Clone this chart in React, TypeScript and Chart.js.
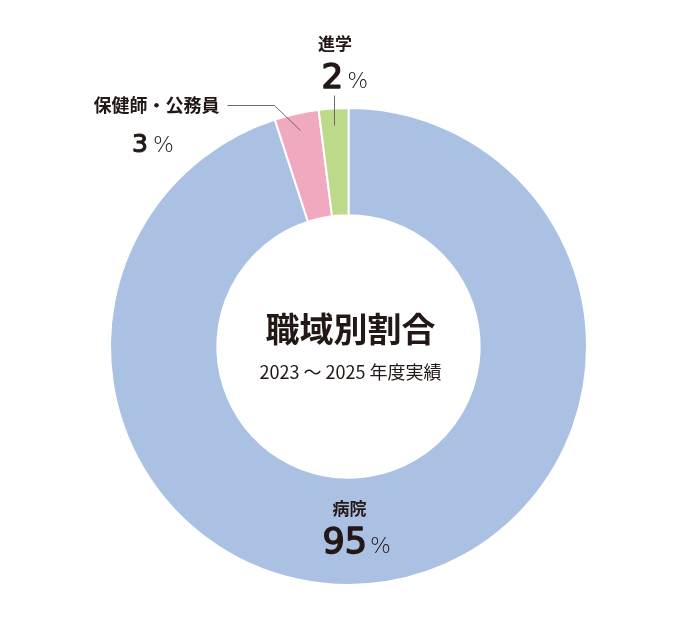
import React, { useEffect, useRef } from "react";
import { Chart, registerables, Plugin } from "chart.js";

Chart.register(...registerables);

// chart data
const categories = ["病院", "保健師・公務員", "進学"];
const shares = [95, 3, 2];
const sliceColors = ["#abc1e3", "#f1a9bf", "#bdd98a"];
const centerTitle = "職域別割合";
const centerSubtitle = "2023 ～ 2025 年度実績";

const INK = "#231815";
const JP = '"Noto Sans CJK JP", "Noto Sans", sans-serif';
const NUM = '"DejaVu Sans", "Noto Sans", sans-serif';

// label placement relative to the doughnut centre
const labelLayout = [
  { name: [1, 162], nameSize: 17, value: [-26, 206], numSize: 35, pctSize: 22, gap: 3, line: null as number[][] | null },
  {
    name: [-192, -241.5], nameSize: 18, value: [-216.5, -194.5], numSize: 25, pctSize: 22, gap: 5,
    line: [[-121, -241], [-74, -241], [-48, -216]],
  },
  { name: [-13.5, -303], nameSize: 17, value: [-27, -258.5], numSize: 34, pctSize: 22, gap: 4, line: [[-14, -251], [-14, -221]] },
];

const labelPlugin: Plugin<"doughnut"> = {
  id: "doughnutLabels",
  afterDraw(chart) {
    const arc = chart.getDatasetMeta(0).data[0] as any;
    if (!arc) return;
    const cx = arc.x;
    const cy = arc.y;
    const ctx = chart.ctx;
    ctx.save();
    ctx.fillStyle = INK;

    // centre text
    ctx.textAlign = "center";
    ctx.textBaseline = "middle";
    ctx.font = `700 34px ${JP}`;
    ctx.fillText(centerTitle, cx + 2, cy - 17);
    ctx.font = `400 18px ${JP}`;
    ctx.fillText(centerSubtitle, cx + 2, cy + 26);

    categories.forEach((cat, i) => {
      const lay = labelLayout[i];
      ctx.fillStyle = INK;
      ctx.textAlign = "center";
      ctx.textBaseline = "middle";
      ctx.font = `700 ${lay.nameSize}px ${JP}`;
      ctx.fillText(cat, cx + lay.name[0], cy + lay.name[1]);

      ctx.textAlign = "left";
      ctx.textBaseline = "alphabetic";
      ctx.font = `400 ${lay.numSize}px ${NUM}`;
      const num = String(shares[i]);
      const nx = cx + lay.value[0];
      const ny = cy + lay.value[1];
      // slightly heavier digits
      ctx.strokeStyle = INK;
      ctx.lineWidth = i === 1 ? 1.1 : 1.5;
      ctx.lineJoin = "round";
      ctx.fillText(num, nx, ny);
      ctx.strokeText(num, nx, ny);
      const w = ctx.measureText(num).width;
      ctx.font = `200 ${lay.pctSize}px ${NUM}`;
      ctx.fillText("%", nx + w + lay.gap, ny);

      if (lay.line) {
        ctx.strokeStyle = "#6b6b6b";
        ctx.lineWidth = 1;
        ctx.beginPath();
        lay.line.forEach((p, k) => {
          if (k === 0) ctx.moveTo(cx + p[0], cy + p[1]);
          else ctx.lineTo(cx + p[0], cy + p[1]);
        });
        ctx.stroke();
      }
    });
    ctx.restore();
  },
};

const App: React.FC = () => {
  const canvasRef = useRef<HTMLCanvasElement | null>(null);

  useEffect(() => {
    if (!canvasRef.current) return;
    const chart = new Chart(canvasRef.current, {
      type: "doughnut",
      data: {
        labels: categories,
        datasets: [
          {
            data: shares,
            backgroundColor: sliceColors,
            borderColor: "#ffffff",
            borderWidth: 2,
          },
        ],
      },
      options: {
        responsive: false,
        animation: false,
        cutout: "55%",
        rotation: 0,
        layout: { padding: { left: 109, right: 92, top: 107, bottom: 49 } },
        plugins: {
          legend: { display: false },
          tooltip: { enabled: false },
        },
      },
      plugins: [labelPlugin],
    });
    return () => chart.destroy();
  }, []);

  return (
    <div style={{ position: "absolute", left: 0, top: 0, width: 680, height: 635, background: "#fff" }}>
      <canvas ref={canvasRef} width={680} height={635} />
    </div>
  );
};

export default App;
